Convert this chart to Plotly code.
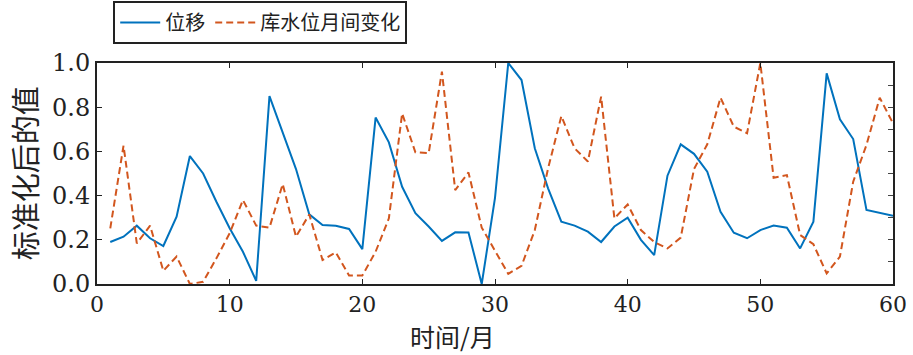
import plotly.graph_objects as go

months = list(range(1, 61))
displacement = [0.19, 0.214, 0.264, 0.207, 0.172, 0.305, 0.579, 0.50, 0.372, 0.252,
                0.146, 0.014, 0.85, 0.68, 0.52, 0.315, 0.267, 0.264, 0.249, 0.158,
                0.753, 0.641, 0.44, 0.32, 0.26, 0.195, 0.234, 0.233, 0.0, 0.39,
                1.0, 0.923, 0.614, 0.433, 0.282, 0.264, 0.237, 0.19, 0.26, 0.30,
                0.20, 0.131, 0.49, 0.632, 0.589, 0.508, 0.327, 0.232, 0.207, 0.244,
                0.265, 0.255, 0.161, 0.282, 0.953, 0.745, 0.656, 0.335, 0.323, 0.309]
water_change = [0.252, 0.626, 0.184, 0.264, 0.06, 0.124, 0.0, 0.01, 0.116, 0.23,
                0.38, 0.264, 0.255, 0.452, 0.214, 0.315, 0.109, 0.143, 0.038, 0.038,
                0.146, 0.297, 0.772, 0.596, 0.592, 0.961, 0.425, 0.505, 0.255, 0.15,
                0.046, 0.082, 0.244, 0.523, 0.76, 0.614, 0.554, 0.848, 0.297, 0.36,
                0.244, 0.19, 0.161, 0.21, 0.52, 0.632, 0.843, 0.712, 0.682, 1.0,
                0.481, 0.493, 0.222, 0.18, 0.048, 0.124, 0.463, 0.629, 0.843, 0.727]

name_disp = "位移"
name_water = "库水位月间变化"
x_title = "时间/月"
y_title = "标准化后的值"
x_ticks = [0, 10, 20, 30, 40, 50, 60]
y_ticks = [0.0, 0.2, 0.4, 0.6, 0.8, 1.0]

num_font = "DejaVu Serif, Liberation Serif, serif"
cjk_font = "Noto Sans CJK SC, sans-serif"

fig = go.Figure()
fig.add_trace(go.Scatter(x=months, y=displacement, mode="lines", name=name_disp,
                         line=dict(color="#0072BD", width=2)))
fig.add_trace(go.Scatter(x=months, y=water_change, mode="lines", name=name_water,
                         line=dict(color="#D2561E", width=2, dash="7px,4px")))
fig.add_trace(go.Scatter(x=[], y=[], yaxis="y2", showlegend=False, hoverinfo="skip"))

fig.update_layout(
    width=913, height=355,
    margin=dict(l=97, r=20, t=63, b=71, autoexpand=False),
    paper_bgcolor="white", plot_bgcolor="white",
    font=dict(family=num_font, size=24, color="#222"),
    showlegend=True,
    legend=dict(orientation="h", xref="container", yref="container",
                x=0.285, xanchor="center", y=0.997, yanchor="top",
                bordercolor="#222", borderwidth=2, bgcolor="white",
                font=dict(family=cjk_font, size=20, color="#222"),
                itemwidth=40, tracegroupgap=0),
    xaxis=dict(range=[0, 60], tickvals=x_ticks, ticks="inside", ticklen=5,
               tickcolor="#222", showline=True, linecolor="#222", linewidth=2,
               mirror="ticks", showgrid=False, zeroline=False, automargin=False,
               tickfont=dict(family=num_font, size=22)),
    yaxis=dict(range=[0, 1], tickvals=y_ticks, tickformat=".1f", ticks="inside",
               ticklen=5, tickcolor="#222", showline=True, linecolor="#222",
               linewidth=2, mirror=True, showgrid=False, zeroline=False,
               automargin=False, tickfont=dict(family=num_font, size=24)),
    yaxis2=dict(range=[0, 1], overlaying="y", side="right", dtick=0.1,
                ticks="inside", ticklen=5, tickcolor="#444", showticklabels=False,
                showline=False, showgrid=False, zeroline=False, automargin=False),
    annotations=[
        dict(text=x_title, xref="paper", yref="paper", x=0.446, y=-0.15,
             xanchor="center", yanchor="top", showarrow=False, borderpad=0,
             font=dict(family=cjk_font, size=25, color="#222")),
        dict(text=y_title, xref="paper", yref="paper", x=-0.092, y=0.5,
             xanchor="center", yanchor="middle", textangle=-90, showarrow=False,
             font=dict(family=cjk_font, size=29, color="#222")),
    ],
)

fig.write_html("out.html", config={"displayModeBar": False},
               post_script="document.body.style.margin='0';document.body.style.overflow='hidden';")
